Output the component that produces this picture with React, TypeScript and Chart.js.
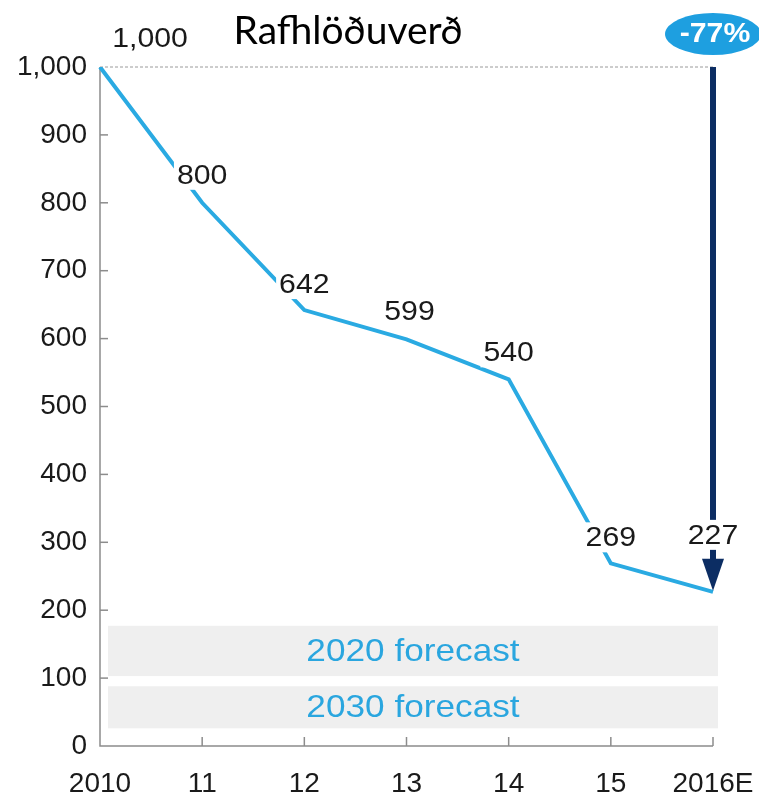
import React, { useEffect, useRef } from "react";
import { Chart, registerables } from "chart.js";

Chart.register(...registerables);

const TITLE = "Rafhlöðuverð";
const CATEGORIES = ["2010", "11", "12", "13", "14", "15", "2016E"];
const PRICES = [1000, 800, 642, 599, 540, 269, 227];
const Y_TICKS = [0, 100, 200, 300, 400, 500, 600, 700, 800, 900, 1000];
const CHANGE_LABEL = "-77%";
const FORECAST_LABELS = ["2020 forecast", "2030 forecast"];
const FORECAST_LOW = [103, 26];
const FORECAST_HIGH = [177, 88];

const LINE_COLOR = "#2aaae2";
const NAVY = "#0c2d63";
const AXIS_COLOR = "#8c8c8c";
const TEXT_COLOR = "#1a1a1a";
const NUM_FONT = '"Liberation Sans", Arial, Helvetica, sans-serif';

const fmt = (v: number) => v.toLocaleString("en-US");

// label offsets relative to point pixel (dx, dy)
const LABEL_OFFSETS: [number, number][] = [
  [50, -29],
  [0, -28],
  [0, -26],
  [3, -28],
  [0, -27],
  [0, -26],
  [0, -57],
];

function stretchedText(ctx: any, text: string, cx: number, cy: number, sx: number) {
  ctx.save();
  ctx.translate(cx, cy);
  ctx.scale(sx, 1);
  ctx.fillText(text, 0, 0);
  ctx.restore();
}

const decorPlugin = {
  id: "decor",
  beforeDatasetsDraw(chart: any) {
    const { ctx, scales } = chart;
    const x = scales.x;
    const y = scales.y;
    ctx.save();
    for (let i = 0; i < FORECAST_LABELS.length; i++) {
      const top = y.getPixelForValue(FORECAST_HIGH[i]);
      const bot = y.getPixelForValue(FORECAST_LOW[i]);
      const left = x.getPixelForValue(0) + 8;
      const right = x.getPixelForValue(CATEGORIES.length - 1) + 5;
      ctx.fillStyle = "#efefef";
      ctx.fillRect(left, top, right - left, bot - top);
      ctx.fillStyle = "#2aa6df";
      ctx.font = `32px ${NUM_FONT}`;
      ctx.textAlign = "center";
      ctx.textBaseline = "middle";
      stretchedText(ctx, FORECAST_LABELS[i], 413, (top + bot) / 2 + 1, 1.1);
    }
    const x0 = x.getPixelForValue(0);
    const y0 = y.getPixelForValue(0);
    const xEnd = x.getPixelForValue(CATEGORIES.length - 1);
    const yTop = y.getPixelForValue(1000);
    ctx.strokeStyle = AXIS_COLOR;
    ctx.lineWidth = 1.5;
    ctx.beginPath();
    ctx.moveTo(x0, yTop);
    ctx.lineTo(x0, y0);
    ctx.lineTo(xEnd, y0);
    ctx.stroke();
    for (const v of Y_TICKS) {
      if (v === 0 || v === 1000) continue;
      const py = y.getPixelForValue(v);
      ctx.beginPath();
      ctx.moveTo(x0, py);
      ctx.lineTo(x0 + 8, py);
      ctx.stroke();
    }
    for (let i = 1; i < CATEGORIES.length; i++) {
      const px = x.getPixelForValue(i);
      ctx.beginPath();
      ctx.moveTo(px, y0);
      ctx.lineTo(px, y0 - 9);
      ctx.stroke();
    }
    ctx.strokeStyle = "#9a9a9a";
    ctx.lineWidth = 1;
    ctx.setLineDash([3, 2]);
    ctx.beginPath();
    ctx.moveTo(x0, y.getPixelForValue(PRICES[0]));
    ctx.lineTo(xEnd, y.getPixelForValue(PRICES[0]));
    ctx.stroke();
    ctx.setLineDash([]);
    ctx.restore();
  },
  afterDatasetsDraw(chart: any) {
    const { ctx, scales } = chart;
    const x = scales.x;
    const y = scales.y;
    const last = CATEGORIES.length - 1;
    const ax = x.getPixelForValue(last);
    const aTop = y.getPixelForValue(PRICES[0]);
    const tip = y.getPixelForValue(PRICES[last]) - 1;
    ctx.save();
    ctx.fillStyle = NAVY;
    ctx.fillRect(ax - 3, aTop, 6, tip - 30 - aTop);
    ctx.beginPath();
    ctx.moveTo(ax - 11, tip - 32);
    ctx.lineTo(ax + 11, tip - 32);
    ctx.lineTo(ax, tip);
    ctx.closePath();
    ctx.fill();
    ctx.font = `28px ${NUM_FONT}`;
    ctx.textAlign = "center";
    ctx.textBaseline = "middle";
    const meta = chart.getDatasetMeta(0);
    meta.data.forEach((pt: any, i: number) => {
      const [dx, dy] = LABEL_OFFSETS[i];
      const cx = pt.x + dx;
      const cy = pt.y + dy;
      const t = fmt(PRICES[i]);
      const w = ctx.measureText(t).width * 1.08;
      if (i > 0) {
        ctx.fillStyle = "#ffffff";
        ctx.fillRect(cx - w / 2 - 3, cy - 15, w + 6, 30);
      }
      ctx.fillStyle = TEXT_COLOR;
      stretchedText(ctx, t, cx, cy + 1, 1.08);
    });
    ctx.restore();
  },
  afterDraw(chart: any) {
    const { ctx, scales } = chart;
    const x = scales.x;
    ctx.save();
    ctx.fillStyle = "#000000";
    ctx.font = '39px Lato, "Open Sans", sans-serif';
    ctx.textAlign = "center";
    ctx.textBaseline = "alphabetic";
    ctx.fillText(TITLE, 348, 44);
    const bx = x.getPixelForValue(CATEGORIES.length - 1);
    ctx.fillStyle = "#1e9fe0";
    ctx.beginPath();
    ctx.ellipse(bx, 34, 48, 21, 0, 0, Math.PI * 2);
    ctx.fill();
    ctx.fillStyle = "#ffffff";
    ctx.font = `bold 27px ${NUM_FONT}`;
    ctx.textAlign = "center";
    ctx.textBaseline = "middle";
    stretchedText(ctx, CHANGE_LABEL, bx + 2, 35, 1.12);
    ctx.restore();
  },
};

export default function App() {
  const ref = useRef<HTMLCanvasElement | null>(null);
  useEffect(() => {
    if (!ref.current) return;
    const chart = new Chart(ref.current, {
      type: "line",
      data: {
        labels: CATEGORIES,
        datasets: [
          {
            data: PRICES,
            borderColor: LINE_COLOR,
            borderWidth: 4,
            pointRadius: 0,
            tension: 0,
            fill: false,
          },
        ],
      },
      options: {
        responsive: false,
        animation: false,
        events: [],
        layout: { padding: { top: 67, right: 46, left: 0, bottom: 0 } },
        plugins: { legend: { display: false }, tooltip: { enabled: false }, title: { display: false } },
        scales: {
          x: {
            type: "category",
            offset: false,
            grid: { display: false, drawTicks: false },
            border: { display: false },
            ticks: {
              autoSkip: false,
              maxRotation: 0,
              padding: 21,
              color: TEXT_COLOR,
              font: { family: NUM_FONT, size: 28 },
            },
            afterFit: (s: any) => {
              s.height = 51;
              s.paddingLeft = 0;
              s.paddingRight = 0;
            },
          },
          y: {
            min: 0,
            max: 1000,
            grid: { display: false, drawTicks: false },
            border: { display: false },
            afterBuildTicks: (s: any) => {
              s.ticks = Y_TICKS.map((v) => ({ value: v }));
            },
            ticks: {
              padding: 13,
              color: TEXT_COLOR,
              font: { family: NUM_FONT, size: 28 },
              callback: (v: any) => fmt(Number(v)),
            },
            afterFit: (s: any) => {
              s.width = 100;
              s.paddingTop = 0;
              s.paddingBottom = 0;
            },
          },
        },
      },
      plugins: [decorPlugin],
    });
    return () => chart.destroy();
  }, []);
  return (
    <div style={{ position: "fixed", left: 0, top: 0, width: 759, height: 797, background: "#fff" }}>
      <canvas ref={ref} width={759} height={797} style={{ width: 759, height: 797, display: "block" }} />
    </div>
  );
}
